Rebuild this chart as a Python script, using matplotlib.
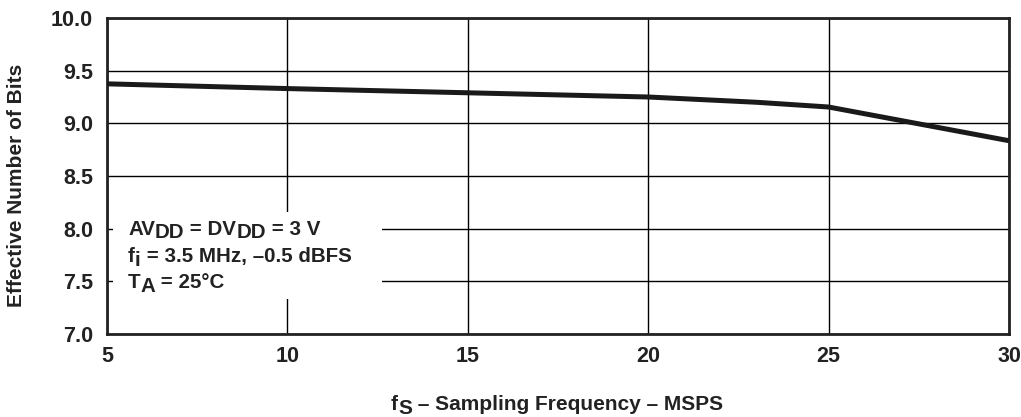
import matplotlib.pyplot as plt
from matplotlib.patches import Rectangle

# effective number of bits vs sampling frequency
freq_msps = [5, 10, 15, 20, 23, 25, 30]
enob = [9.375, 9.33, 9.29, 9.25, 9.2, 9.155, 8.835]

x_ticks = [5, 10, 15, 20, 25, 30]
y_ticks = [7.0, 7.5, 8.0, 8.5, 9.0, 9.5, 10.0]

# condition note, (text, is_subscript) pieces per line
note_lines = [
    [('AV', False), ('DD', True), (' = DV', False), ('DD', True), (' = 3 V', False)],
    [('f', False), ('i', True), (' = 3.5 MHz, –0.5 dBFS', False)],
    [('T', False), ('A', True), (' = 25°C', False)],
]
xlabel_parts = [('f', False), ('S', True), (' – Sampling Frequency – MSPS', False)]

W, H = 1021, 417
plt.rcParams['font.family'] = 'Liberation Sans'
plt.rcParams['font.weight'] = 'bold'

fig = plt.figure(figsize=(W / 100, H / 100), dpi=100)
ax = fig.add_axes([107 / W, 1 - 334 / H, 902 / W, 316 / H])

ax.plot(freq_msps, enob, color='#1a1a1a', lw=3.6, solid_capstyle='butt', zorder=3)

ax.set_xlim(5, 30)
ax.set_ylim(7.0, 10.0)
ax.set_xticks(x_ticks)
ax.set_yticks(y_ticks)
ax.set_xticklabels([str(t) for t in x_ticks])
ax.set_yticklabels(['%.1f' % t for t in y_ticks])
ax.tick_params(length=0, labelsize=15.5, colors='#222222')
ax.tick_params(axis='y', pad=10)
ax.tick_params(axis='x', pad=9)
ax.grid(True, color='black', lw=1.0)
ax.set_axisbelow(True)
for s in ax.spines.values():
    s.set_linewidth(2)
    s.set_color('#222222')

# white area under the note (pixel box from the picture)
bx0, bx1, by0, by1 = 113, 382, 212, 299
ax.add_patch(Rectangle(((bx0 - 107) / 902, (334 - by1) / 316),
                       (bx1 - bx0) / 902, (by1 - by0) / 316,
                       transform=ax.transAxes, facecolor='white',
                       edgecolor='none', zorder=2))

fig.text(17 / W, 1 - 185 / H, 'Effective Number of Bits', rotation=90,
         fontsize=15, fontweight='bold', color='#222222', ha='center', va='center')

renderer = fig.canvas.get_renderer()


def draw_pieces(parts, x, base, size):
    texts = []
    for s, sub in parts:
        y = base + (3.5 if sub else 0)
        t = fig.text(x / W, 1 - y / H, s, fontsize=size, fontweight='bold',
                     color='#222222', ha='left', va='baseline', zorder=5)
        x += t.get_window_extent(renderer=renderer).width
        texts.append(t)
    return texts, x


baselines = [235, 262, 288]
for line, base in zip(note_lines, baselines):
    draw_pieces(line, 128, base, 14.8)

# x label, centred under the axes
texts, x_end = draw_pieces(xlabel_parts, 0, 410, 15)
shift = 557 - x_end / 2
for t in texts:
    px, py = t.get_position()
    t.set_x(px + shift / W)

plt.savefig('out.png', dpi=100)
